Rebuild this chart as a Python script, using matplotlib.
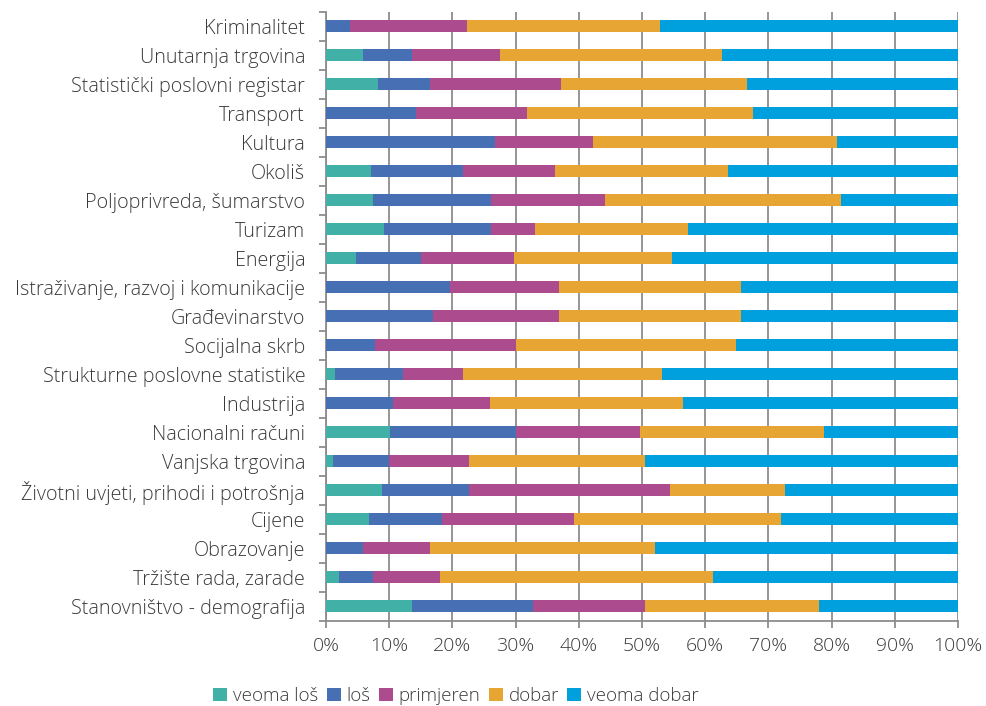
import matplotlib
matplotlib.use("Agg")
import matplotlib.pyplot as plt
import numpy as np
from matplotlib.patches import Patch

categories = [
    "Kriminalitet", "Unutarnja trgovina", "Statistički poslovni registar", "Transport",
    "Kultura", "Okoliš", "Poljoprivreda, šumarstvo", "Turizam", "Energija",
    "Istraživanje, razvoj i komunikacije", "Građevinarstvo", "Socijalna skrb",
    "Strukturne poslovne statistike", "Industrija", "Nacionalni računi",
    "Vanjska trgovina", "Životni uvjeti, prihodi i potrošnja", "Cijene",
    "Obrazovanje", "Tržište rada, zarade", "Stanovništvo - demografija",
]
series_names = ["veoma loš", "loš", "primjeren", "dobar", "veoma dobar"]

veoma_los = [0, 5.9, 8.2, 0, 0, 7.1, 7.5, 9.1, 4.8, 0, 0, 0, 1.5, 0, 10.2, 1.1, 8.9, 6.8, 0, 2.1, 13.6]
los = [3.8, 7.7, 8.3, 14.2, 26.7, 14.5, 18.6, 17.0, 10.2, 19.6, 16.9, 7.8, 10.7, 10.6, 19.9, 8.8, 13.8, 11.5, 5.8, 5.4, 19.2]
primjeren = [18.5, 13.9, 20.7, 17.6, 15.5, 14.6, 18.1, 7.0, 14.8, 17.2, 19.9, 22.3, 9.4, 15.4, 19.6, 12.8, 31.7, 20.9, 10.7, 10.5, 17.6]
dobar = [30.5, 35.1, 29.4, 35.8, 38.6, 27.4, 37.3, 24.1, 25.0, 28.8, 28.8, 34.8, 31.5, 30.5, 29.1, 27.7, 18.3, 32.8, 35.6, 43.2, 27.6]
veoma_dobar = [47.2, 37.4, 33.4, 32.4, 19.2, 36.4, 18.5, 42.8, 45.2, 34.4, 34.4, 35.1, 46.9, 43.5, 21.2, 49.6, 27.3, 28.0, 47.9, 38.8, 22.0]

x_ticks = [0, 10, 20, 30, 40, 50, 60, 70, 80, 90, 100]
x_tick_labels = ["0%", "10%", "20%", "30%", "40%", "50%", "60%", "70%", "80%", "90%", "100%"]

colors = ["#41B1A8", "#466FB4", "#AC4B8D", "#E7A534", "#00A0DE"]
text_color = "#3a3a3a"
grid_color = "#8c8c8c"

plt.rcParams["font.family"] = ["Open Sans", "DejaVu Sans"]

fig = plt.figure(figsize=(9.87, 7.06), dpi=100)
ax = fig.add_axes([326 / 987, 1 - 620.7 / 706, (958 - 326) / 987, (620.7 - 11.5) / 706])

data = [veoma_los, los, primjeren, dobar, veoma_dobar]
y = np.arange(len(categories))
left = np.zeros(len(categories))
for vals, col, name in zip(data, colors, series_names):
    v = np.array(vals, dtype=float)
    ax.barh(y, v, left=left, height=0.42, color=col, edgecolor="none", label=name, zorder=3)
    left += v

ax.set_xlim(0, 100)
ax.set_ylim(len(categories) - 0.5, -0.5)
ax.set_xticks(x_ticks)
ax.set_xticklabels(x_tick_labels)
ax.set_yticks(y)
ax.set_yticklabels(categories)
ax.set_yticks(np.arange(-0.5, len(categories), 1.0), minor=True)

ax.tick_params(axis="y", which="major", length=0, pad=15, labelsize=14.2, labelcolor=text_color)
ax.tick_params(axis="y", which="minor", length=5, width=1.3, color=grid_color, direction="out")
ax.tick_params(axis="x", which="major", length=5, width=1.3, color=grid_color, pad=7,
               labelsize=14, labelcolor=text_color)
for lab in ax.get_yticklabels():
    lab.set_fontweight("light")
for lab in ax.get_xticklabels():
    lab.set_fontweight("light")

ax.grid(axis="x", color=grid_color, linewidth=1.3, zorder=0)
ax.set_axisbelow(True)
for s in ["top", "right"]:
    ax.spines[s].set_visible(False)
for s in ["left", "bottom"]:
    ax.spines[s].set_color(grid_color)
    ax.spines[s].set_linewidth(1.3)

handles = [Patch(facecolor=c, edgecolor="none") for c in colors]
leg = fig.legend(handles, series_names, loc="center", bbox_to_anchor=(456 / 987, 1 - 696 / 706),
                 ncol=5, frameon=False, handlelength=0.75, handleheight=0.75, handletextpad=0.3,
                 columnspacing=0.45, prop={"size": 13.5, "weight": "light"})
for t in leg.get_texts():
    t.set_color(text_color)

fig.savefig("out.png", dpi=100)
